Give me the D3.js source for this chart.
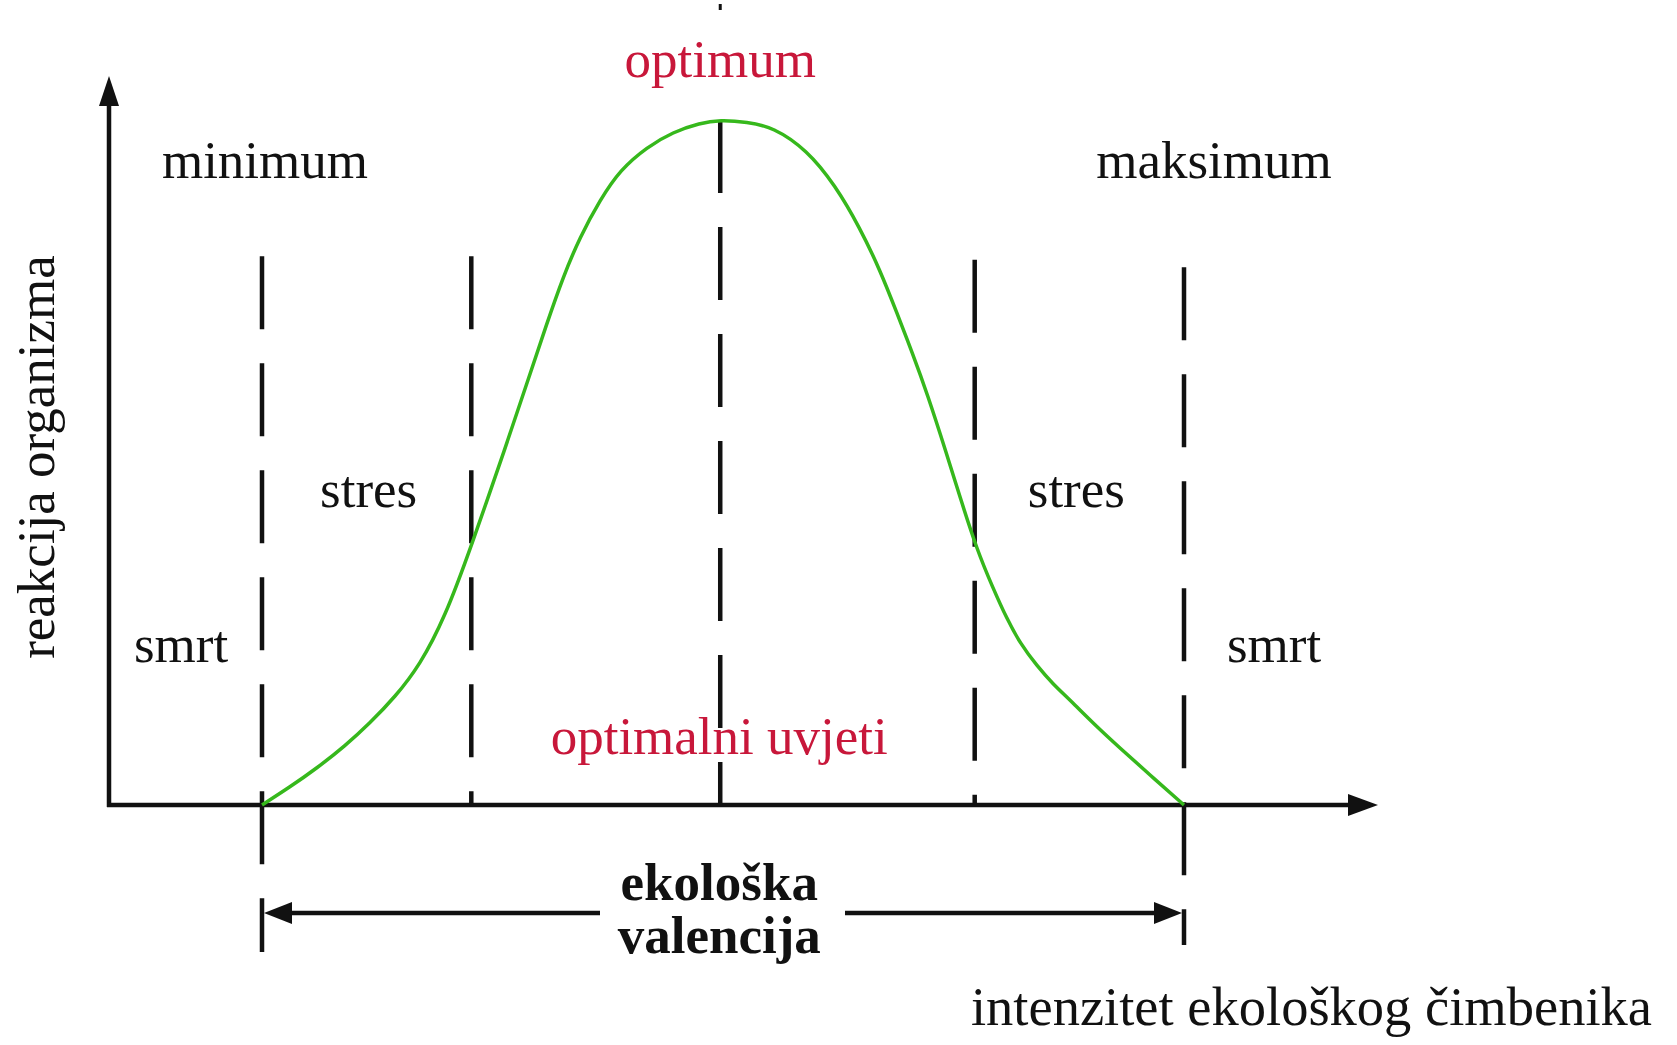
<!DOCTYPE html>
<html>
<head>
<meta charset="utf-8">
<script src="https://cdn.jsdelivr.net/npm/d3@7"></script>
<style>
  body { margin: 0; background: #fff; }
  svg text { font-family: "Liberation Serif", "Times New Roman", serif; font-size: 53px; fill: #111; }
</style>
</head>
<body>
<svg id="chart"></svg>
<script>
// intensity of the factor: 0 = minimum, 100 = maksimum
const boundaries = [0, 22.7, 49.7, 77.3, 100]; // min, stress limit, optimum, stress limit, max
const boundaryTops = [80.1, 80.1, 100, 79.6, 78.5]; // response level where each dashed line starts

// response curve (response 0..100)
const curveX = [0, 3.04, 5.97, 9.0, 11.71, 14.43, 17.14, 19.85, 22.56, 26.57, 28.74, 30.91,
  32.65, 34.49, 36.66, 38.83, 41.76, 44.58, 47.51, 49.67,
  52.6, 55.42, 59.11, 62.15, 64.86, 67.03, 68.87, 70.5, 72.13, 74.3, 75.7, 77.55,
  79.28, 80.8, 82.21, 84.06, 85.79, 87.64, 90.35, 93.06, 96.31, 100];
const curveY = [0, 2.63, 5.4, 8.61, 11.97, 15.77, 20.44, 27.45, 37.23, 52.85, 61.61, 70.36,
  77.08, 82.92, 88.32, 92.7, 96.06, 98.25, 99.56, 100,
  99.71, 98.98, 95.62, 90.51, 84.23, 78.1, 71.82, 66.13, 60.15, 51.09, 44.96, 37.23,
  31.68, 27.15, 23.65, 20.29, 17.66, 15.33, 11.68, 8.32, 4.38, 0];

const limitNames = ["minimum", "optimum", "maksimum"];
const zoneNames = ["smrt", "stres", "optimalni uvjeti", "stres", "smrt"];
const rangeTitle = ["ekološka", "valencija"];
const axisTitles = ["reakcija organizma", "intenzitet ekološkog čimbenika"];

const width = 1677;
const height = 1045;
const red = "#c8173a";
const green = "#36b81c";

const svg = d3.select("#chart")
  .attr("width", width)
  .attr("height", height);

const x = d3.scaleLinear().domain([0, 100]).range([262, 1184]);
const y = d3.scaleLinear().domain([0, 100]).range([805, 120]);

const axisLeft = 109;
const axisRight = 1378;
const axisTop = 76;
const valenceY = 913;

function arrowHead(tx, ty, dir, len, half) {
  // dir: "up", "right", "left"
  let pts;
  if (dir === "up") pts = [[tx, ty], [tx - half, ty + len], [tx + half, ty + len]];
  else if (dir === "right") pts = [[tx, ty], [tx - len, ty - half], [tx - len, ty + half]];
  else pts = [[tx, ty], [tx + len, ty - half], [tx + len, ty + half]];
  svg.append("polygon")
    .attr("points", pts.map(p => p.join(",")).join(" "))
    .attr("fill", "#111");
}

// axes
svg.append("line")
  .attr("x1", axisLeft).attr("x2", axisLeft)
  .attr("y1", y(0) + 2).attr("y2", axisTop + 20)
  .attr("stroke", "#111").attr("stroke-width", 4.5);
arrowHead(axisLeft, axisTop, "up", 30, 10);

svg.append("line")
  .attr("x1", axisLeft - 2).attr("x2", axisRight - 20)
  .attr("y1", y(0)).attr("y2", y(0))
  .attr("stroke", "#111").attr("stroke-width", 4.5);
arrowHead(axisRight, y(0), "right", 30, 11);

// dashed limits
svg.append("g")
  .selectAll("line")
  .data(boundaries)
  .join("line")
  .attr("x1", d => x(d))
  .attr("x2", d => x(d))
  .attr("y1", (d, i) => y(boundaryTops[i]))
  .attr("y2", (d, i) => i === 0 ? 952 : i === boundaries.length - 1 ? 945 : y(0))
  .attr("stroke", "#111")
  .attr("stroke-width", 4.5)
  .attr("stroke-dasharray", "73,34");

// small stray mark above optimum
svg.append("line")
  .attr("x1", x(boundaries[2])).attr("x2", x(boundaries[2]))
  .attr("y1", 4).attr("y2", 10)
  .attr("stroke", "#111").attr("stroke-width", 3);

// ecological valence arrow
svg.append("line")
  .attr("x1", x(0) + 20).attr("x2", 600)
  .attr("y1", valenceY).attr("y2", valenceY)
  .attr("stroke", "#111").attr("stroke-width", 4.5);
svg.append("line")
  .attr("x1", 845).attr("x2", x(100) - 20)
  .attr("y1", valenceY).attr("y2", valenceY)
  .attr("stroke", "#111").attr("stroke-width", 4.5);
arrowHead(x(0) + 2, valenceY, "left", 28, 11);
arrowHead(x(100) - 2, valenceY, "right", 28, 11);

// response curve (basis smooths the read-off points)
const line = d3.line()
  .x(d => x(d[0]))
  .y(d => y(d[1]))
  .curve(d3.curveBasis);

svg.append("path")
  .datum(d3.zip(curveX, curveY))
  .attr("d", line)
  .attr("fill", "none")
  .attr("stroke", green)
  .attr("stroke-width", 3.5);

// labels
svg.append("text")
  .attr("x", x(boundaries[0]) + 3).attr("y", 178)
  .attr("text-anchor", "middle")
  .text(limitNames[0]);
svg.append("text")
  .attr("x", x(boundaries[2])).attr("y", 77)
  .attr("text-anchor", "middle")
  .style("fill", red)
  .text(limitNames[1]);
svg.append("text")
  .attr("x", x(boundaries[4]) + 30).attr("y", 178)
  .attr("text-anchor", "middle")
  .text(limitNames[2]);

svg.append("text")
  .attr("x", x(0) - 81).attr("y", 662)
  .attr("text-anchor", "middle")
  .text(zoneNames[0]);
svg.append("text")
  .attr("x", (x(boundaries[0]) + x(boundaries[1])) / 2 + 2).attr("y", 507)
  .attr("text-anchor", "middle")
  .text(zoneNames[1]);
svg.append("text")
  .attr("x", x(boundaries[2]) - 1).attr("y", 754)
  .attr("text-anchor", "middle")
  .style("fill", red)
  .text(zoneNames[2]);
svg.append("text")
  .attr("x", (x(boundaries[3]) + x(boundaries[4])) / 2 - 3).attr("y", 507)
  .attr("text-anchor", "middle")
  .text(zoneNames[3]);
svg.append("text")
  .attr("x", x(100) + 90).attr("y", 662)
  .attr("text-anchor", "middle")
  .text(zoneNames[4]);

svg.selectAll(".range")
  .data(rangeTitle)
  .join("text")
  .attr("class", "range")
  .attr("x", x(boundaries[2]) - 1)
  .attr("y", (d, i) => 900 + i * 53)
  .attr("text-anchor", "middle")
  .style("font-weight", "bold")
  .text(d => d);

svg.append("text")
  .attr("transform", "translate(54,457) rotate(-90)")
  .attr("text-anchor", "middle")
  .text(axisTitles[0]);
svg.append("text")
  .attr("x", 1652).attr("y", 1025)
  .attr("text-anchor", "end")
  .style("font-size", "54.5px")
  .text(axisTitles[1]);
</script>
</body>
</html>
